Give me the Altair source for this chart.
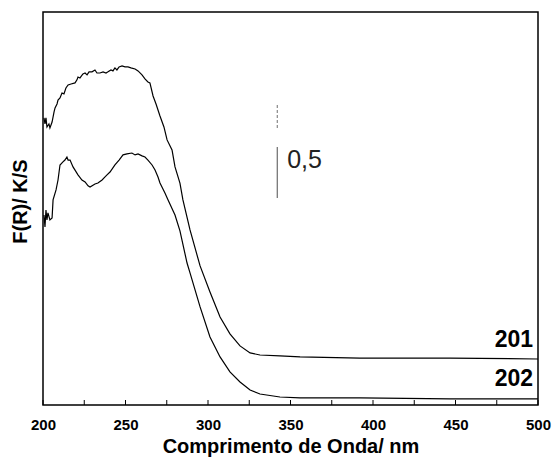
import altair as alt
import pandas as pd

# Sample 201 (upper curve): wavelength (nm) and F(R) (arbitrary units)
wl_201 = [200.6, 201.2, 201.8, 202.4, 203.6, 204.2, 205.5, 206.7, 207.3, 208.5, 209.1, 210.3,
          211.5, 212.7, 213.9, 215.2, 217.0, 219.4, 220.6, 221.2, 222.4, 224.2, 225.5, 226.7,
          227.9, 229.7, 231.5, 232.7, 234.5, 236.4, 238.2, 239.4, 241.2, 242.4, 243.6, 244.8,
          246.1, 247.9, 249.7, 251.5, 253.3, 255.8, 257.6, 260.0, 261.8, 263.6, 264.8, 266.7,
          268.5, 270.9, 273.3, 275.2, 278.2, 280.0, 283.0, 284.8, 289.1, 295.2, 301.2, 307.3,
          313.3, 319.4, 325.5, 331.5, 343.6, 355.8, 392.1, 446.7, 500.0]
fr_201 = [1.511, 1.479, 1.511, 1.463, 1.479, 1.458, 1.489, 1.542, 1.563, 1.584, 1.605, 1.616,
          1.642, 1.637, 1.668, 1.684, 1.689, 1.695, 1.711, 1.726, 1.721, 1.742, 1.747, 1.737,
          1.753, 1.753, 1.763, 1.747, 1.747, 1.753, 1.747, 1.753, 1.763, 1.758, 1.774, 1.763,
          1.779, 1.784, 1.779, 1.779, 1.774, 1.768, 1.758, 1.737, 1.716, 1.700, 1.695, 1.626,
          1.584, 1.521, 1.463, 1.395, 1.342, 1.253, 1.168, 1.079, 0.921, 0.732, 0.595, 0.463,
          0.374, 0.311, 0.274, 0.263, 0.258, 0.253, 0.247, 0.247, 0.242]

# Sample 202 (lower curve)
wl_202 = [200.6, 201.2, 201.8, 202.4, 203.0, 204.2, 205.5, 206.1, 207.9, 209.1, 210.3, 212.1,
          213.3, 214.5, 215.2, 216.4, 218.2, 221.2, 223.6, 225.5, 227.3, 228.5, 231.5, 233.3,
          235.8, 237.6, 238.8, 240.6, 243.6, 246.1, 248.5, 250.9, 253.9, 255.8, 257.6, 260.0,
          261.8, 263.6, 266.1, 267.9, 269.7, 270.9, 273.9, 275.8, 280.0, 283.0, 287.3, 289.1,
          295.2, 301.2, 307.3, 313.3, 319.4, 325.5, 331.5, 343.6, 355.8, 392.1, 446.7, 500.0]
fr_202 = [1.000, 0.937, 1.026, 0.974, 1.011, 0.974, 0.984, 1.079, 1.132, 1.184, 1.263, 1.279,
          1.289, 1.305, 1.289, 1.289, 1.253, 1.211, 1.184, 1.174, 1.153, 1.147, 1.163, 1.168,
          1.184, 1.200, 1.211, 1.226, 1.263, 1.289, 1.316, 1.321, 1.326, 1.316, 1.321, 1.311,
          1.305, 1.289, 1.263, 1.237, 1.200, 1.168, 1.116, 1.079, 1.000, 0.916, 0.747, 0.695,
          0.516, 0.358, 0.253, 0.174, 0.121, 0.079, 0.058, 0.042, 0.037, 0.037, 0.032, 0.032]

x_tick_marks = [200, 225, 250, 275, 300, 325, 350, 375, 400, 425, 450, 475, 500]
x_tick_labels = [200, 250, 300, 350, 400, 450, 500]

series_names = ["201", "202"]
series_label_wl = [497.0, 497.0]
series_label_fr = [0.342, 0.137]

scale_bar_wl = 342.0
scale_bar_dashed = [1.458, 1.589]
scale_bar_solid = [1.089, 1.358]
scale_text = "0,5"
scale_text_wl = 348.0
scale_text_fr = 1.29

FONT = "Liberation Sans"

curves = pd.concat([
    pd.DataFrame({"wl": wl_201, "fr": fr_201, "series": "201"}),
    pd.DataFrame({"wl": wl_202, "fr": fr_202, "series": "202"}),
])
ticks_df = pd.DataFrame({"wl": x_tick_marks})
labels_df = pd.DataFrame({"wl": series_label_wl, "fr": series_label_fr, "label": series_names})
bar_dashed_df = pd.DataFrame({"wl": [scale_bar_wl], "fr": [scale_bar_dashed[0]], "fr2": [scale_bar_dashed[1]]})
bar_solid_df = pd.DataFrame({"wl": [scale_bar_wl], "fr": [scale_bar_solid[0]], "fr2": [scale_bar_solid[1]]})
scale_text_df = pd.DataFrame({"wl": [scale_text_wl], "fr": [scale_text_fr], "label": [scale_text]})

x_scale = alt.Scale(domain=[200, 500], nice=False, zero=False)
y_scale = alt.Scale(domain=[0, 2.068], nice=False, zero=False)

x_axis = alt.Axis(values=x_tick_labels, title="Comprimento de Onda/ nm", tickSize=0, domain=False,
                  grid=False, labelFontSize=15, labelFontWeight="bold", labelPadding=12,
                  labelFlush=False, labelFont=FONT, labelColor="black",
                  titleFont=FONT, titleFontSize=20, titleFontWeight="bold", titlePadding=4,
                  titleColor="black")
y_axis = alt.Axis(title="F(R)/ K/S", labels=False, ticks=False, domain=False, grid=False,
                  titleFont=FONT, titleFontSize=20, titleFontWeight="bold", titleColor="black",
                  titleX=-23, titleY=189, titleAlign="center", titleBaseline="middle")

X = alt.X("wl:Q", scale=x_scale, axis=x_axis)
Y = alt.Y("fr:Q", scale=y_scale, axis=y_axis)

lines = alt.Chart(curves).mark_line(color="black", strokeWidth=1.2).encode(
    x=X, y=Y, detail="series:N"
)
ticks = alt.Chart(ticks_df).mark_rule(color="black", strokeWidth=1).encode(
    x=X, y=alt.value(388), y2=alt.value(393)
)
bar_dashed = alt.Chart(bar_dashed_df).mark_rule(color="#888888", strokeWidth=1.2, strokeDash=[3, 2]).encode(
    x=X, y=Y, y2="fr2:Q"
)
bar_solid = alt.Chart(bar_solid_df).mark_rule(color="#777777", strokeWidth=1.3).encode(
    x=X, y=Y, y2="fr2:Q"
)
scale_label = alt.Chart(scale_text_df).mark_text(
    align="left", baseline="middle", fontSize=25, font=FONT, color="#222222"
).encode(x=X, y=Y, text="label:N")
series_labels = alt.Chart(labels_df).mark_text(
    align="right", baseline="middle", fontSize=23, fontWeight="bold", font=FONT, color="black"
).encode(x=X, y=Y, text="label:N")

chart = alt.layer(lines, ticks, bar_dashed, bar_solid, scale_label, series_labels).properties(
    width=495, height=393,
    background="white",
    autosize=alt.AutoSizeParams(type="none"),
    padding={"left": 43, "top": 12, "right": 18, "bottom": 57},
).configure_view(stroke="black", strokeWidth=1.5)

chart.save("out.html", embed_options={"renderer": "svg", "actions": False})
